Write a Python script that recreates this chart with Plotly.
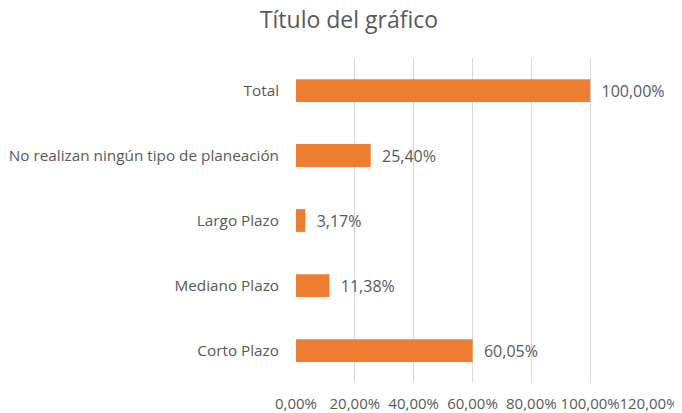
import plotly.graph_objects as go

categories = ["Corto Plazo", "Mediano Plazo", "Largo Plazo",
              "No realizan ningún tipo de planeación", "Total"]
values = [0.6005, 0.1138, 0.0317, 0.2540, 1.0000]
x_ticks = [0, 0.2, 0.4, 0.6, 0.8, 1.0, 1.2]

font_family = "Open Sans, Noto Sans, Liberation Sans, sans-serif"
gray = "#595959"

fig = go.Figure(go.Bar(
    x=values, y=categories, orientation="h",
    marker=dict(color="#ED7D31", line=dict(width=0)),
    texttemplate="\u00a0\u00a0%{x:.2%}", textposition="outside",
    textfont=dict(color=gray, size=16, family=font_family),
    cliponaxis=False,
))

fig.update_layout(
    width=682, height=413,
    margin=dict(l=288, r=41, t=50, b=38, autoexpand=False),
    paper_bgcolor="white", plot_bgcolor="white",
    separators=",.",
    bargap=0.65,
    showlegend=False,
    title=dict(text="Título del gráfico", x=0.5, xanchor="center", xref="container",
               y=0.99, yanchor="top", yref="container",
               font=dict(size=23, color=gray, family=font_family)),
    font=dict(family=font_family, color=gray, size=15.3),
)
fig.update_xaxes(range=[0, 1.2], tickvals=x_ticks, tickformat=".2%",
                 tickangle=0,
                 showgrid=True, gridcolor="#D9D9D9", gridwidth=1,
                 zeroline=False, showline=False, ticks="",
                 ticklabelstandoff=10,
                 tickfont=dict(size=15, color=gray, family=font_family))
fig.update_yaxes(showgrid=False, zeroline=False, showline=False, ticks="",
                 ticklabelstandoff=16,
                 tickfont=dict(size=15.3, color=gray, family=font_family))

fig.write_html("out.html")
